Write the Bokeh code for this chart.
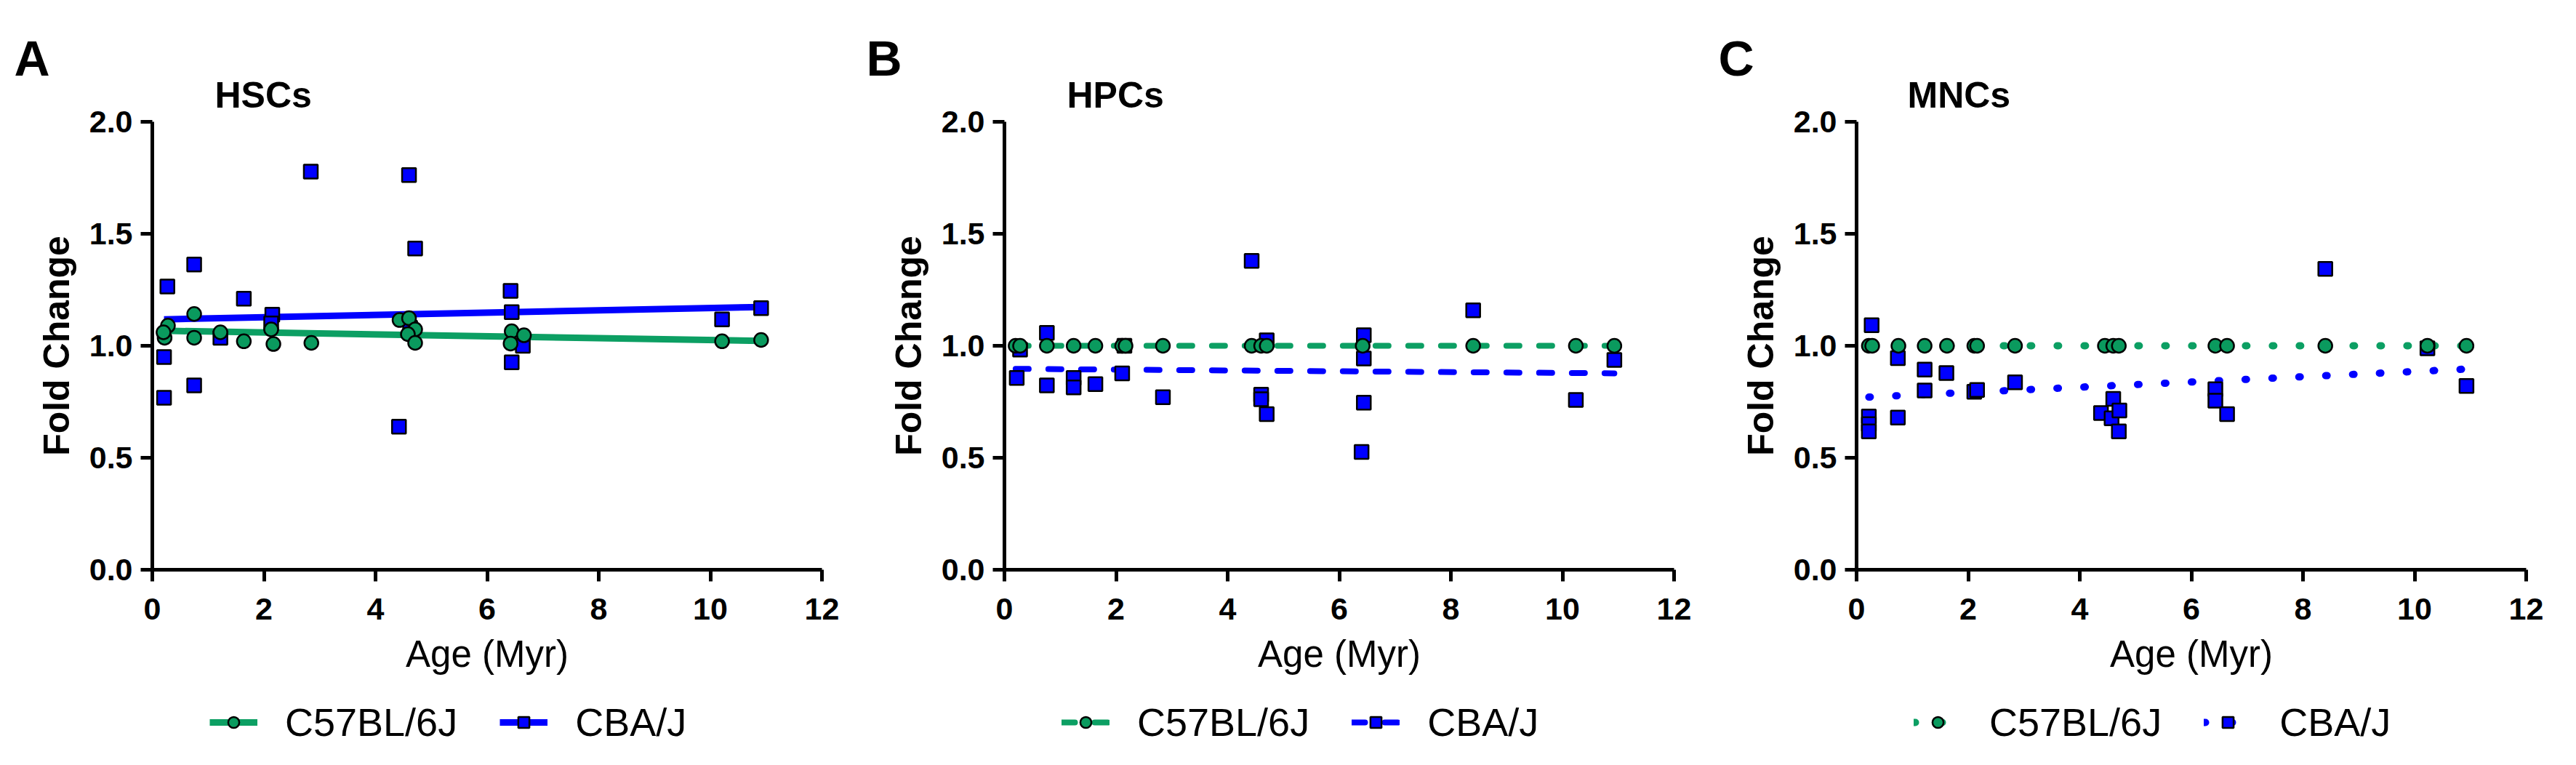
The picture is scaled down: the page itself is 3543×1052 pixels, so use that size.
from bokeh.plotting import figure
from bokeh.layouts import row, column
from bokeh.models import Range1d, FixedTicker, PrintfTickFormatter, Title, Legend, LegendItem
from bokeh.embed import file_html
from bokeh.resources import INLINE

# ---------------- data ----------------
# Panel A: HSCs
hsc_c57_age = [0.22, 0.28, 0.20, 0.75, 0.75, 1.22, 1.64, 2.13, 2.17, 2.85, 4.43, 4.60, 4.71, 4.58, 4.71, 6.44, 6.42, 6.66, 10.21, 10.91]
hsc_c57_fc = [1.036, 1.09, 1.06, 1.142, 1.036, 1.06, 1.02, 1.073, 1.008, 1.013, 1.115, 1.123, 1.073, 1.052, 1.013, 1.065, 1.01, 1.047, 1.02, 1.026]
hsc_cba_age = [0.27, 0.21, 0.21, 0.75, 0.75, 1.22, 1.64, 2.15, 2.13, 2.84, 4.60, 4.71, 4.42, 4.62, 6.42, 6.44, 6.44, 6.64, 10.21, 10.91]
hsc_cba_fc = [1.265, 0.95, 0.768, 1.363, 0.823, 1.036, 1.21, 1.139, 1.10, 1.778, 1.762, 1.434, 0.639, 1.08, 1.245, 1.15, 0.926, 1.0, 1.118, 1.168]
hsc_fit_age = [0.21, 10.91]
hsc_fit_c57 = [1.067, 1.022]
hsc_fit_cba = [1.118, 1.173]

# Panel B: HPCs
hpc_c57_age = [0.20, 0.28, 0.76, 1.24, 1.63, 2.11, 2.17, 2.84, 4.43, 4.60, 4.70, 6.42, 8.40, 10.24, 10.93]
hpc_c57_fc = [1.0, 1.0, 1.0, 1.0, 1.0, 1.0, 1.0, 1.0, 1.0, 1.0, 1.0, 1.0, 1.0, 1.0, 1.0]
hpc_cba_age = [0.28, 0.22, 0.76, 0.76, 1.24, 1.24, 1.63, 2.15, 2.11, 2.84, 4.43, 4.60, 4.60, 4.70, 4.70, 6.44, 6.44, 6.44, 6.40, 8.40, 10.24, 10.93]
hpc_cba_fc = [0.983, 0.856, 1.058, 0.823, 0.856, 0.814, 0.829, 1.0, 0.877, 0.77, 1.379, 0.782, 0.761, 0.695, 1.024, 1.047, 0.943, 0.746, 0.526, 1.158, 0.758, 0.937]
hpc_fit_age = [0.20, 10.93]
hpc_fit_c57 = [1.0, 1.0]
hpc_fit_cba = [0.897, 0.877]

# Panel C: MNCs
mnc_c57_age = [0.22, 0.28, 0.75, 1.22, 1.62, 2.11, 2.16, 2.84, 4.45, 4.60, 4.70, 6.43, 6.64, 8.40, 10.23, 10.93]
mnc_c57_fc = [1.0, 1.0, 1.0, 1.0, 1.0, 1.0, 1.0, 1.0, 1.0, 1.0, 1.0, 1.0, 1.0, 1.0, 1.0, 1.0]
mnc_cba_age = [0.27, 0.22, 0.22, 0.22, 0.74, 0.74, 1.22, 1.22, 1.61, 2.11, 2.16, 2.84, 4.38, 4.60, 4.57, 4.71, 4.70, 6.43, 6.43, 6.64, 8.40, 10.23, 10.93]
mnc_cba_fc = [1.092, 0.684, 0.65, 0.618, 0.945, 0.679, 0.894, 0.80, 0.878, 0.795, 0.803, 0.837, 0.70, 0.763, 0.676, 0.711, 0.618, 0.806, 0.755, 0.695, 1.343, 0.989, 0.821]
mnc_fit_age = [0.22, 10.93]
mnc_fit_c57 = [1.0, 1.0]
mnc_fit_cba = [0.771, 0.896]

panel_letters = ["A", "B", "C"]
panel_titles = ["HSCs", "HPCs", "MNCs"]
series_labels = ["C57BL/6J", "CBA/J"]
x_ticks = [0, 2, 4, 6, 8, 10, 12]
y_ticks = [0.0, 0.5, 1.0, 1.5, 2.0]

# ---------------- styling ----------------
GREEN = "#0A9A5E"
GREEN_LINE = "#0C9F63"
BLUE = "#0000FF"
FONT = "Liberation Sans"

W = 1172
PH = 936          # plot figure height
LH = 98           # legend strip height
FW, FH = 921, 616
MBL, MBT = 209, 167

# legend-key placeholders (off-screen, only used to draw the legend keys)
key_x = [-10.0, -9.0]
key_y = [-10.0, -10.0]


def line_style(dash):
    if dash == "solid":
        return dict(line_width=9, line_cap="butt")
    if dash == "dashed":
        return dict(line_width=8, line_cap="round", line_dash="18 27")
    return dict(line_width=10, line_cap="round", line_dash="2 35")


def make_panel(letter, title, c57x, c57y, cbax, cbay, fitx, fitg, fitb, dash, title_dx):
    p = figure(width=W, height=PH, x_range=Range1d(0, 12), y_range=Range1d(0, 2),
               output_backend="svg", toolbar_location=None,
               min_border_left=MBL, min_border_right=W - MBL - FW,
               min_border_top=MBT, min_border_bottom=PH - MBT - FH)
    p.outline_line_color = None
    p.grid.visible = False
    p.background_fill_color = "white"
    p.border_fill_color = "white"

    for ax in (p.xaxis[0], p.yaxis[0]):
        ax.axis_line_width = 5
        ax.axis_line_color = "black"
        ax.major_tick_line_width = 5
        ax.major_tick_line_color = "black"
        ax.major_tick_out = 16
        ax.major_tick_in = 0
        ax.minor_tick_line_color = None
        ax.major_label_text_font = FONT
        ax.major_label_text_font_style = "bold"
        ax.major_label_text_font_size = "43px"
        ax.major_label_text_color = "black"
        ax.axis_label_text_font = FONT
        ax.axis_label_text_color = "black"

    p.xaxis[0].ticker = FixedTicker(ticks=x_ticks)
    p.yaxis[0].ticker = FixedTicker(ticks=y_ticks)
    p.yaxis[0].formatter = PrintfTickFormatter(format="%.1f")
    p.xaxis[0].major_label_standoff = 23
    p.yaxis[0].major_label_standoff = 11
    p.xaxis[0].axis_label = "Age (Myr)"
    p.xaxis[0].axis_label_text_font_style = "normal"
    p.xaxis[0].axis_label_text_font_size = "51px"
    p.xaxis[0].axis_label_standoff = 16
    p.yaxis[0].axis_label = "Fold Change"
    p.yaxis[0].axis_label_text_font_style = "bold"
    p.yaxis[0].axis_label_text_font_size = "50px"
    p.yaxis[0].axis_label_standoff = 14

    kw = line_style(dash)
    p.line(fitx, fitg, line_color=GREEN_LINE, **kw)
    p.line(fitx, fitb, line_color=BLUE, **kw)
    p.scatter(cbax, cbay, marker="square", size=19, fill_color=BLUE,
              line_color="black", line_width=2.5)
    p.scatter(c57x, c57y, marker="circle", size=19, fill_color=GREEN,
              line_color="black", line_width=2.5)

    # titles: first added sits nearest to the frame
    p.add_layout(Title(text=title, align="left", offset=title_dx, standoff=18,
                       text_font=FONT, text_font_style="bold", text_font_size="50px",
                       text_color="black"), "above")
    p.add_layout(Title(text=letter, align="left", offset=-190, standoff=-52,
                       text_font=FONT, text_font_style="bold", text_font_size="68px",
                       text_color="black"), "above")

    # legend strip below the plot
    lf = figure(width=W, height=LH, x_range=Range1d(0, 1), y_range=Range1d(0, 1),
                output_backend="svg", toolbar_location=None,
                x_axis_type=None, y_axis_type=None,
                min_border_left=0, min_border_right=0, min_border_top=0, min_border_bottom=0)
    lf.outline_line_color = None
    lf.grid.visible = False
    lf.background_fill_color = "white"
    lf.border_fill_color = "white"
    gl = lf.line(key_x, key_y, line_color=GREEN_LINE, **kw)
    gs = lf.scatter(key_x, key_y, marker="circle", fill_color=GREEN, line_color="black", line_width=2.5)
    bl = lf.line(key_x, key_y, line_color=BLUE, **kw)
    bs = lf.scatter(key_x, key_y, marker="square", fill_color=BLUE, line_color="black", line_width=2.5)
    leg = Legend(items=[LegendItem(label=series_labels[0], renderers=[gl, gs]),
                        LegendItem(label=series_labels[1], renderers=[bl, bs])],
                 location=(79, 10), orientation="horizontal",
                 glyph_width=66, glyph_height=38, label_standoff=38, spacing=58,
                 padding=0, margin=0, border_line_color=None, background_fill_alpha=0,
                 label_text_font=FONT, label_text_font_size="54px", label_text_color="black")
    lf.add_layout(leg)
    return column(p, lf, spacing=0)


pa = make_panel(panel_letters[0], panel_titles[0], hsc_c57_age, hsc_c57_fc, hsc_cba_age, hsc_cba_fc,
                hsc_fit_age, hsc_fit_c57, hsc_fit_cba, "solid", 86)
pb = make_panel(panel_letters[1], panel_titles[1], hpc_c57_age, hpc_c57_fc, hpc_cba_age, hpc_cba_fc,
                hpc_fit_age, hpc_fit_c57, hpc_fit_cba, "dashed", 86)
pc = make_panel(panel_letters[2], panel_titles[2], mnc_c57_age, mnc_c57_fc, mnc_cba_age, mnc_cba_fc,
                mnc_fit_age, mnc_fit_c57, mnc_fit_cba, "dotted", 70)

layout = row(pa, pb, pc, spacing=0)
open("out.html", "w").write(file_html(layout, INLINE))
